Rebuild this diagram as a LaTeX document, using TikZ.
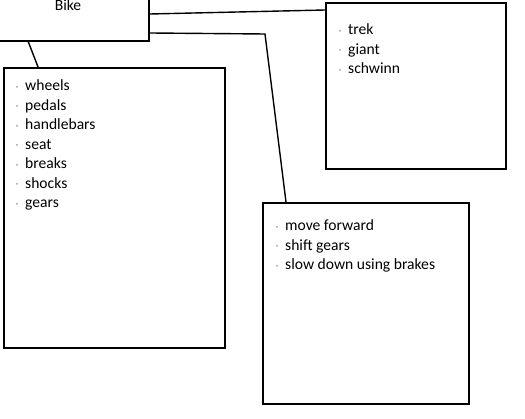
\documentclass[tikz,border=0pt]{standalone}
\usepackage{fontspec}
\setmainfont{Carlito}
\newcommand\bul{\makebox[9pt][l]{\raisebox{2.5pt}{\fontsize{4}{4}\selectfont\color{black!60}\textbullet}}}
\begin{document}
\begin{tikzpicture}[x=1pt,y=-1pt,
  box/.style={draw=black, line width=1.6pt, inner sep=0pt, fill=white},
  conn/.style={draw=black, line width=1.4pt},
  txt/.style={inner sep=0pt, anchor=base west, font=\fontsize{15.6}{19.5}\selectfont, text=black}]
\clip (0,0) rectangle (525,419);
\fill[white] (0,0) rectangle (525,419);
% boxes
\node[box, minimum width=160pt, minimum height=52pt, anchor=south east] (bike) at (150,42) {};
\node[box, minimum width=221pt, minimum height=280pt, anchor=north west] (parts) at (3,67) {};
\node[box, minimum width=180pt, minimum height=166pt, anchor=north west] (brands) at (325,2) {};
\node[box, minimum width=206pt, minimum height=201pt, anchor=north west] (act) at (262,202) {};
% texts
\node[txt, anchor=base] (biketxt) at (68,11) {Bike};
\node[txt] (partstxt) at (16,91) {\parbox[t]{200pt}{\raggedright
  \bul wheels\\ \bul pedals\\ \bul handlebars\\ \bul seat\\ \bul breaks\\ \bul shocks\\ \bul gears}};
\node[txt] (brandstxt) at (339,35) {\parbox[t]{150pt}{\raggedright
  \bul trek\\ \bul giant\\ \bul schwinn}};
\node[txt] (acttxt) at (276,231) {\parbox[t]{185pt}{\raggedright
  \bul move forward\\ \bul shift gears\\ \bul slow down using brakes}};
% connectors
\coordinate (bend) at (265,34);
\draw[conn] ([xshift=40pt]bike.south west) -- ([xshift=35pt]parts.north west);
\draw[conn] ([yshift=28pt]bike.south east) -- ([yshift=-8pt]brands.north west);
\draw[conn] ([yshift=9pt]bike.south east) -- (bend) -- ([xshift=24pt]act.north west);
\end{tikzpicture}
\end{document}
